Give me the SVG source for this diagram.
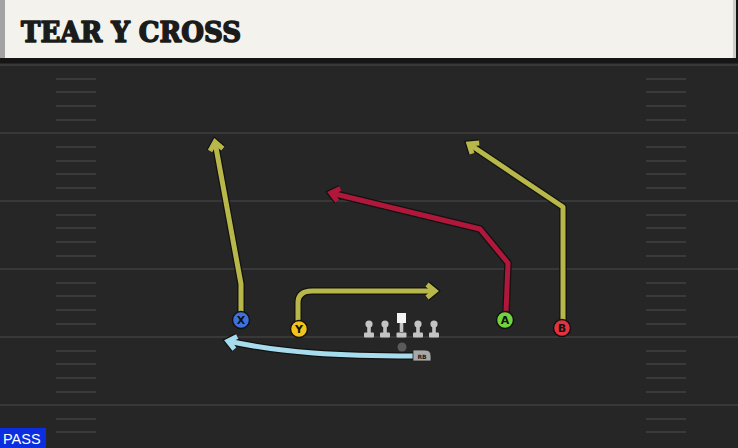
<svg xmlns="http://www.w3.org/2000/svg" width="738" height="448" viewBox="0 0 738 448">
<style>
.yl{stroke:#383838;stroke-width:2}
.hm{stroke:#3a3a3a;stroke-width:2}
.ol{fill:none;stroke:#121212;stroke-width:7.5;stroke-linejoin:round;stroke-linecap:butt}
.rt{fill:none;stroke-width:5;stroke-linejoin:round;stroke-linecap:butt}
.lm{fill:#c4c4c4}
.lbl{font-family:"DejaVu Sans",sans-serif;font-weight:bold;font-size:11px;fill:#111;text-anchor:middle}
</style>
<defs>
<marker id="o" markerUnits="userSpaceOnUse" orient="auto" markerWidth="1" markerHeight="1" overflow="visible"><path d="M-8,-6.5 L0,0 L-8,6.5" fill="none" stroke="#121212" stroke-width="7.5"/></marker>
<marker id="ay" markerUnits="userSpaceOnUse" orient="auto" markerWidth="1" markerHeight="1" overflow="visible"><path d="M-8,-6.5 L0,0 L-8,6.5" fill="none" stroke="#b8b84a" stroke-width="5"/></marker>
<marker id="ar" markerUnits="userSpaceOnUse" orient="auto" markerWidth="1" markerHeight="1" overflow="visible"><path d="M-8,-6.5 L0,0 L-8,6.5" fill="none" stroke="#b0173a" stroke-width="5"/></marker>
<marker id="ab" markerUnits="userSpaceOnUse" orient="auto" markerWidth="1" markerHeight="1" overflow="visible"><path d="M-8,-6.5 L0,0 L-8,6.5" fill="none" stroke="#a6dcee" stroke-width="5"/></marker>
<g id="lineman"><circle cx="0" cy="0" r="3.6" class="lm"/><rect x="-1.8" y="0" width="3.6" height="9" class="lm"/><rect x="-5" y="8.5" width="10" height="5" rx="1" class="lm"/></g>
</defs>
<rect width="738" height="448" fill="#262626"/>
<rect x="0" y="0" width="738" height="63" fill="#151515"/>
<rect x="5" y="0" width="729" height="58" fill="#f4f2ec"/>
<rect x="0" y="0" width="5" height="58" fill="#a3a3a3"/>
<rect x="733" y="0" width="3" height="58" fill="#cfcdc6"/>
<text x="21" y="42" font-family="'DejaVu Serif',serif" font-weight="bold" font-size="27.5" fill="#1b1b1b" stroke="#1b1b1b" stroke-width="1.6" stroke-linejoin="round" textLength="220" lengthAdjust="spacingAndGlyphs">TEAR Y CROSS</text>
<g id="field">
<line class="yl" x1="0" y1="65" x2="738" y2="65"/>
<line class="yl" x1="0" y1="133" x2="738" y2="133"/>
<line class="yl" x1="0" y1="201" x2="738" y2="201"/>
<line class="yl" x1="0" y1="269" x2="738" y2="269"/>
<line class="yl" x1="0" y1="337" x2="738" y2="337"/>
<line class="yl" x1="0" y1="405" x2="738" y2="405"/>
<g id="hashL">
<line class="hm" x1="56" x2="96" y1="79" y2="79"/><line class="hm" x1="56" x2="96" y1="92" y2="92"/><line class="hm" x1="56" x2="96" y1="106" y2="106"/><line class="hm" x1="56" x2="96" y1="120" y2="120"/>
<line class="hm" x1="56" x2="96" y1="147" y2="147"/><line class="hm" x1="56" x2="96" y1="161" y2="161"/><line class="hm" x1="56" x2="96" y1="174" y2="174"/><line class="hm" x1="56" x2="96" y1="188" y2="188"/>
<line class="hm" x1="56" x2="96" y1="215" y2="215"/><line class="hm" x1="56" x2="96" y1="228" y2="228"/><line class="hm" x1="56" x2="96" y1="242" y2="242"/><line class="hm" x1="56" x2="96" y1="256" y2="256"/>
<line class="hm" x1="56" x2="96" y1="283" y2="283"/><line class="hm" x1="56" x2="96" y1="296" y2="296"/><line class="hm" x1="56" x2="96" y1="310" y2="310"/><line class="hm" x1="56" x2="96" y1="324" y2="324"/>
<line class="hm" x1="56" x2="96" y1="351" y2="351"/><line class="hm" x1="56" x2="96" y1="364" y2="364"/><line class="hm" x1="56" x2="96" y1="378" y2="378"/><line class="hm" x1="56" x2="96" y1="392" y2="392"/>
<line class="hm" x1="56" x2="96" y1="419" y2="419"/><line class="hm" x1="56" x2="96" y1="432" y2="432"/>
</g>
<use href="#hashL" x="590"/>
</g>
<g id="connectors">
<path class="ol" d="M241,312 L241,284 L215,142" marker-end="url(#o)"/>
<path class="rt" stroke="#b8b84a" d="M241,312 L241,284 L215,142" marker-end="url(#ay)"/>
<path class="ol" d="M298,321 L298,303 Q298,291 312,291 L435,291" marker-end="url(#o)"/>
<path class="rt" stroke="#b8b84a" d="M298,321 L298,303 Q298,291 312,291 L435,291" marker-end="url(#ay)"/>
<path class="ol" d="M506,312 L508,263 L480,229 L331,193" marker-end="url(#o)"/>
<path class="rt" stroke="#b0173a" d="M506,312 L508,263 L480,229 L331,193" marker-end="url(#ar)"/>
<path class="ol" d="M563,320 L563,207 L469,144" marker-end="url(#o)"/>
<path class="rt" stroke="#b8b84a" d="M563,320 L563,207 L469,144" marker-end="url(#ay)"/>
<path class="ol" d="M414,356 C340,356 282,353 228,341" marker-end="url(#o)"/>
<path class="rt" stroke="#a6dcee" d="M414,356 C340,356 282,353 228,341" marker-end="url(#ab)"/>
</g>
<g id="X"><circle cx="241" cy="320" r="8.5" fill="#3d72dc" stroke="#121212" stroke-width="1.5"/><text class="lbl" x="241" y="324">X</text></g>
<g id="Y"><circle cx="299" cy="329" r="8.5" fill="#f2c318" stroke="#121212" stroke-width="1.5"/><text class="lbl" x="299" y="333">Y</text></g>
<g id="A"><circle cx="505" cy="320" r="8.5" fill="#72d43c" stroke="#121212" stroke-width="1.5"/><text class="lbl" x="505" y="324">A</text></g>
<g id="B"><circle cx="562" cy="328" r="8.5" fill="#e2333f" stroke="#121212" stroke-width="1.5"/><text class="lbl" x="562" y="332">B</text></g>
<g id="LT"><use href="#lineman" x="369" y="324"/></g>
<g id="LG"><use href="#lineman" x="385" y="324"/></g>
<g id="C"><rect x="397" y="313" width="9" height="10" fill="#f4f4f4"/><rect x="399.7" y="323" width="3.6" height="9" class="lm"/><rect x="396.5" y="332.5" width="10" height="5" rx="1" class="lm"/></g>
<g id="RG"><use href="#lineman" x="418" y="324"/></g>
<g id="RT"><use href="#lineman" x="434" y="324"/></g>
<g id="QB"><circle cx="402" cy="347" r="4.5" fill="#5a5a5a"/></g>
<g id="RB"><path d="M413,350 L425,350 Q431,350 431,356 L431,361 L413,361 Z" fill="#a8a8a8" stroke="#222" stroke-width="0.8"/><text x="422" y="359" font-family="'DejaVu Sans',sans-serif" font-size="6" font-weight="bold" fill="#222" text-anchor="middle">RB</text></g>
<g id="pass"><rect x="0" y="428" width="46" height="20" fill="#0b2fe0"/><text x="3" y="444" font-family="'Liberation Sans',sans-serif" font-size="14.5" fill="#ffffff">PASS</text></g>
</svg>
